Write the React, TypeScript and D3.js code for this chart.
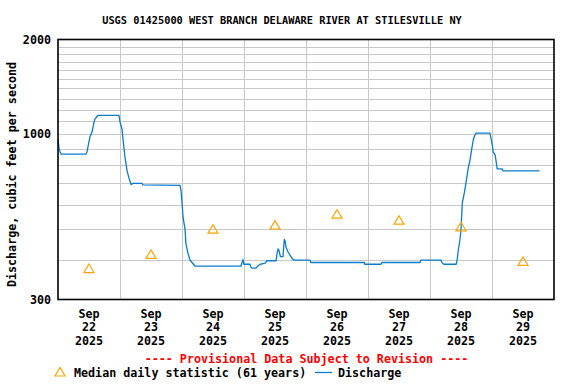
import React from "react";
import * as d3 from "d3";

// Discharge: hours since Sep 22 2025 00:00, value in cfs
const dischargeHours = [
  0, 0.4, 0.8, 1.2, 10.8, 11.2, 11.6, 12.4, 13.2, 13.9, 14.3, 15.1, 15.5, 23.6,
  24.0, 24.8, 25.2, 25.9, 26.7, 27.5, 28.3, 29.0, 32.5, 32.9, 47.2, 47.6, 48.0,
  48.4, 49.2, 49.5, 50.3, 51.1, 51.9, 53.0, 70.8, 71.6, 72.0, 74.3, 74.7, 75.1,
  76.6, 77.4, 78.2, 80.1, 80.9, 84.4, 84.8, 85.2, 85.5, 86.1, 87.1, 87.6, 87.9,
  88.3, 89.0, 89.8, 90.6, 91.4, 97.5, 97.9, 118.5, 118.8, 125.0, 125.4, 140.1,
  140.5, 148.3, 148.6, 149.4, 154.1, 154.5, 155.0, 155.6, 156.0, 156.5, 156.9,
  157.3, 157.9, 158.3, 158.8, 159.5, 160.1, 160.8, 161.4, 161.8, 167.2, 167.9,
  168.5, 169.2, 169.5, 170.0, 171.9, 172.3, 186.4,
];
const dischargeValues = [
  965, 905, 880, 867, 867, 880, 913, 985, 1020, 1090, 1120, 1140, 1150, 1150,
  1096, 1040, 960, 850, 770, 726, 694, 700, 700, 692, 690, 666, 609,
  548, 499, 452, 421, 400, 393, 383, 383, 400, 388, 388, 380, 377,
  377, 383, 388, 391, 398, 398, 420, 433, 430, 410, 410, 466, 460,
  438, 425, 415, 405, 400, 400, 393, 393, 388, 388, 393, 393,
  400, 400, 393, 388, 388, 400, 433, 464, 499, 606, 630,
  654, 700, 735, 782, 831, 894, 966, 997, 1010, 1010, 948,
  880, 862, 831, 778, 778, 767, 767,
];

// Median daily statistic (61 years), one per day at noon
const medianDays = ["22", "23", "24", "25", "26", "27", "28", "29"];
const medianValues = [376, 417, 501, 516, 559, 535, 510, 396];

const yTickValues = [300, 1000, 2000];
const yGridValues = [400, 500, 600, 700, 800, 900, 1000, 1100, 1200, 1300, 1400, 1500, 1600, 1700, 1800, 1900];
const monthLabel = "Sep";
const yearLabel = "2025";

const W = 576;
const H = 384;
const left = 58;
const right = 554;
const top = 39.5;
const bottom = 299.5;
const FONT = "'DejaVu Sans Mono', 'Liberation Mono', monospace";

export default function App() {
  const x = d3.scaleLinear().domain([0, 192]).range([left, right]);
  const y = d3.scaleLog().domain([300, 2000]).range([bottom, top]);

  const pts: [number, number][] = dischargeHours.map((h, i) => [h, dischargeValues[i]]);
  const line = d3
    .line<[number, number]>()
    .x((d) => x(d[0]))
    .y((d) => y(d[1]))
    .curve(d3.curveLinear);

  const dayBounds = d3.range(1, 8).map((d) => d * 24);

  const tri = (cx: number, cy: number) =>
    `M${cx},${cy - 4.5}L${cx + 5},${cy + 4}L${cx - 5},${cy + 4}Z`;

  return (
    <svg
      width={W}
      height={H}
      style={{ position: "absolute", left: 0, top: 0, background: "#fff" }}
      fontFamily={FONT}
      fontWeight="bold"
    >
      <rect x={0} y={0} width={W} height={H} fill="#fff" />
      <text x={282} y={24} fontSize={10.3} textAnchor="middle" fill="#000">
        USGS 01425000 WEST BRANCH DELAWARE RIVER AT STILESVILLE NY
      </text>

      {/* grid */}
      {yGridValues.map((v) => (
        <line key={"h" + v} x1={left} x2={right} y1={Math.round(y(v)) + 0.5} y2={Math.round(y(v)) + 0.5} stroke="#c8c8c8" strokeWidth={1} />
      ))}
      {dayBounds.map((h) => (
        <line key={"v" + h} x1={Math.round(x(h)) + 0.5} x2={Math.round(x(h)) + 0.5} y1={top} y2={bottom} stroke="#c8c8c8" strokeWidth={1} />
      ))}

      {/* discharge */}
      <path d={line(pts) || ""} fill="none" stroke="#0a7ccc" strokeWidth={1.3} />

      {/* medians */}
      {medianValues.map((v, i) => (
        <path key={"m" + i} d={tri(x(i * 24 + 12), y(v))} fill="none" stroke="#ffa500" strokeWidth={1.2} />
      ))}

      {/* frame */}
      <rect x={left} y={top} width={right - left} height={bottom - top} fill="none" stroke="#000" strokeWidth={1.6} />

      {/* y ticks */}
      {yTickValues.map((v) => (
        <text key={"yt" + v} x={51} y={y(v) + 4} fontSize={11.7} textAnchor="end" fill="#000">
          {v}
        </text>
      ))}
      <text
        transform={`translate(16,${174.5}) rotate(-90)`}
        fontSize={11.7}
        textAnchor="middle"
        fill="#000"
      >
        Discharge, cubic feet per second
      </text>

      {/* x labels */}
      {medianDays.map((d, i) => {
        const cx = x(i * 24 + 12);
        return (
          <g key={"xl" + d}>
            <text x={cx} y={318} fontSize={11.7} textAnchor="middle">{monthLabel}</text>
            <text x={cx} y={331} fontSize={11.7} textAnchor="middle">{d}</text>
            <text x={cx} y={344.5} fontSize={11.7} textAnchor="middle">{yearLabel}</text>
          </g>
        );
      })}

      <text x={306.5} y={363} fontSize={11.7} textAnchor="middle" fill="#ff0000">
        ---- Provisional Data Subject to Revision ----
      </text>

      {/* legend */}
      <path d={tri(60, 372)} fill="none" stroke="#ffa500" strokeWidth={1.2} />
      <text x={74} y={377} fontSize={11.7}>Median daily statistic (61 years)</text>
      <line x1={315} x2={332} y1={372.5} y2={372.5} stroke="#0a7ccc" strokeWidth={1.3} />
      <text x={338} y={377} fontSize={11.7}>Discharge</text>
    </svg>
  );
}
